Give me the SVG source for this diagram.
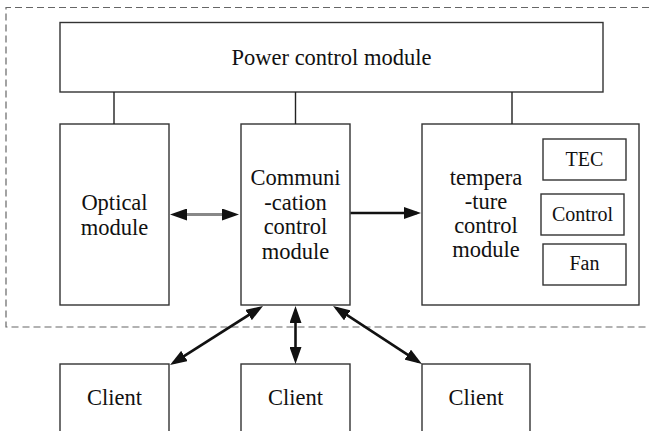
<svg xmlns="http://www.w3.org/2000/svg" width="649" height="431" viewBox="0 0 649 431">
<defs>
<style>
.box{fill:#fff;stroke:#333;stroke-width:1.4}
.t{font-family:'Liberation Serif','Times New Roman',serif;font-size:22.5px;fill:#111;text-anchor:middle}
.s{font-size:20px}
.lk{stroke:#222;stroke-width:1.4;fill:none}
.ar{stroke:#111;stroke-width:2.6;fill:none;marker-start:url(#ah);marker-end:url(#ah)}
</style>
<marker id="ah" viewBox="0 0 17 12" refX="13" refY="6" markerWidth="17" markerHeight="12" markerUnits="userSpaceOnUse" orient="auto-start-reverse">
<path d="M0,0 L17,6 L0,12 Z" fill="#111"/>
</marker>
</defs>
<rect width="649" height="431" fill="#fff"/>
<path d="M649 7.5 H6 V327 H649" fill="none" stroke="#666" stroke-width="1.2" stroke-dasharray="7,4"/>
<g font-family="Liberation Serif, Times New Roman, serif">
<g id="power"><rect class="box" x="60" y="22.5" width="543" height="69.5"/><text class="t" x="331.5" y="65">Power control module</text></g>
<g id="optical"><rect class="box" x="60" y="124" width="109" height="181"/><text class="t" x="114.5" y="210">Optical</text><text class="t" x="114.5" y="234.5">module</text></g>
<g id="comm"><rect class="box" x="241" y="124" width="109" height="181"/><text class="t" x="295.5" y="185">Communi</text><text class="t" x="295.5" y="209.5">-cation</text><text class="t" x="295.5" y="234">control</text><text class="t" x="295.5" y="258.5">module</text></g>
<g id="temp"><rect class="box" x="422" y="124" width="217" height="181"/><text class="t" x="486" y="185">tempera</text><text class="t" x="486" y="209">-ture</text><text class="t" x="486" y="233">control</text><text class="t" x="486" y="257">module</text></g>
<g id="tec"><rect class="box" x="543" y="139" width="83" height="41"/><text class="t s" x="584.5" y="166">TEC</text></g>
<g id="control"><rect class="box" x="541" y="194" width="83" height="41"/><text class="t s" x="582.5" y="221">Control</text></g>
<g id="fan"><rect class="box" x="543" y="244" width="83" height="41"/><text class="t s" x="584.5" y="270">Fan</text></g>
<g id="client1"><rect class="box" x="60" y="364" width="109" height="70"/><text class="t" x="114.5" y="405">Client</text></g>
<g id="client2"><rect class="box" x="241" y="364" width="109" height="70"/><text class="t" x="295.5" y="405">Client</text></g>
<g id="client3"><rect class="box" x="422" y="364" width="108" height="70"/><text class="t" x="476" y="405">Client</text></g>
</g>
<g id="connectors">
<path class="lk" d="M114 92 V124 M295.5 92 V124 M512 92 V124"/>
<line x1="174" y1="214.5" x2="235" y2="214.5" stroke="#888" stroke-width="3" marker-start="url(#ah)" marker-end="url(#ah)"/>
<line x1="350.5" y1="213" x2="417" y2="213" stroke="#111" stroke-width="2.6" marker-end="url(#ah)"/>
<line class="ar" x1="259.6" y1="308.1" x2="173.4" y2="362.9"/>
<line class="ar" x1="295.5" y1="310" x2="295.5" y2="360"/>
<line class="ar" x1="336.4" y1="308.2" x2="418.6" y2="361.8"/>
</g>
</svg>
